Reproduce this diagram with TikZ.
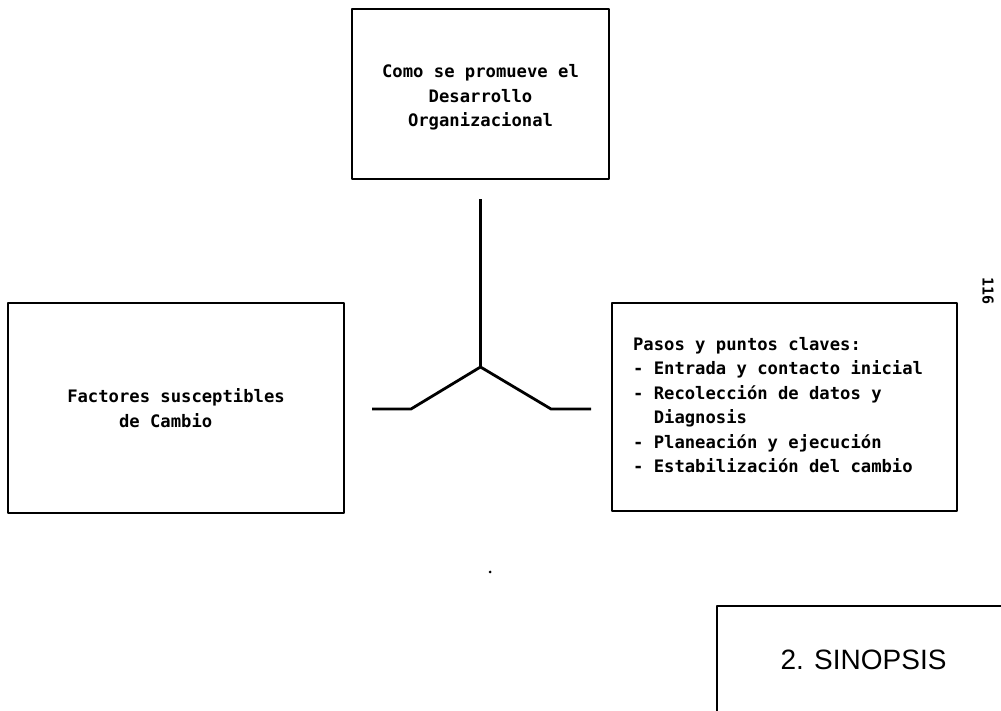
\documentclass[tikz,border=0pt]{standalone}
\usepackage{fontspec}
\setmonofont{DejaVu Sans Mono}
\setsansfont{Liberation Sans}

\begin{document}
\begin{tikzpicture}[x=1pt,y=1pt,line width=2.8pt,line join=round,
  caja/.style={draw,line width=2.6pt,inner sep=0pt},
  letra/.style={font=\ttfamily\bfseries\fontsize{17.2}{24.5}\selectfont}]
  \clip (0,0) rectangle (1001,711);

  % top: how OD is promoted
  \node[caja,minimum width=257pt,minimum height=170pt] (promueve) at (480.5,617) {};
  \node[letra,inner sep=0pt,align=center] (como) at ([yshift=-3.5pt]promueve.center)
    {Como se promueve el\\Desarrollo\\Organizacional};
  % left: factors
  \node[caja,letra,minimum width=336pt,minimum height=210pt,align=left] (factores) at (176,303)
    {Factores susceptibles\\\phantom{xxxxx}de Cambio};
  % right: steps
  \node[caja,minimum width=345pt,minimum height=208pt] (pasos) at (784.5,304) {};
  \node[letra,inner sep=0pt,anchor=west,align=left] (claves) at ([xshift=21pt,yshift=2pt]pasos.west)
    {Pasos y puntos claves:\\- Entrada y contacto inicial\\- Recolección de datos y\\\phantom{xx}Diagnosis\\- Planeación y ejecución\\- Estabilización del cambio};

  % the Y between the boxes
  \coordinate (centro) at (480.5,344);
  \coordinate (izq) at (372,302);
  \coordinate (der) at (591,302);
  \draw ([yshift=-19pt]promueve.south) -- (centro);
  \draw (centro) -- (411,302) -- (izq);
  \draw (centro) -- (551,302) -- (der);

  % bottom right, cut by the page edge
  \node[caja,minimum width=293pt,minimum height=108pt,
    font=\sffamily\fontsize{28}{32}\selectfont] (sinopsis) at (863.5,51) {2. SINOPSIS};

  % page number
  \node[rotate=-90,font=\ttfamily\bfseries\fontsize{15}{18}\selectfont] (pagina) at (988,420) {116};

  % speck
  \fill (490,139) circle (1.5pt);
\end{tikzpicture}
\end{document}
